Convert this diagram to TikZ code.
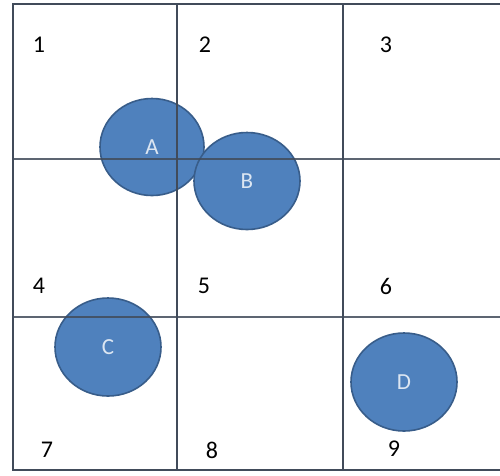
\documentclass[tikz,border=0pt]{standalone}
\usepackage{fontspec}
\setmainfont{Carlito}
\usetikzlibrary{shapes.geometric}
\definecolor{ballfill}{HTML}{4F81BD}
\definecolor{balledge}{HTML}{385D8A}
\definecolor{gridcol}{HTML}{414B5A}
\definecolor{balltext}{HTML}{DCE6F2}
\tikzset{
  ball/.style={ellipse, fill=ballfill, draw=balledge, line width=1.6pt,
    minimum width=#1, inner sep=0pt, text=balltext, font=\fontsize{23}{25}\selectfont},
  grid line/.style={draw=gridcol, line width=2.2pt},
  cellnum/.style={font=\fontsize{24}{26}\selectfont, text=black, inner sep=0pt}
}
\begin{document}
\begin{tikzpicture}[x=1pt,y=-1pt]
\useasboundingbox (0,0) rectangle (500,475);
\fill[white] (0,0) rectangle (500,475);
% balls
\node[ball=104pt, minimum height=97pt] (A) at (152,147) {A};
\node[ball=106pt, minimum height=97pt] (B) at (247,181) {B};
\node[ball=106pt, minimum height=98pt] (C) at (108,347) {C};
\node[ball=106pt, minimum height=98pt] (D) at (404,382) {D};
% grid
\coordinate (tl) at (13,4);
\coordinate (tr) at (500,4);
\coordinate (bl) at (13,470);
\coordinate (br) at (500,470);
\coordinate (v1t) at (177,4);
\coordinate (v1b) at (177,470);
\coordinate (v2t) at (343,4);
\coordinate (v2b) at (343,470);
\coordinate (h1l) at (13,159);
\coordinate (h1r) at (500,159);
\coordinate (h2l) at (13,317);
\coordinate (h2r) at (500,317);
\draw[grid line] (tr) -- (tl) -- (bl) -- (br);
\draw[grid line] (v1t) -- (v1b);
\draw[grid line] (v2t) -- (v2b);
\draw[grid line, draw opacity=0.85] (h1l) -- (h1r);
\draw[grid line, draw opacity=0.85] (h2l) -- (h2r);
% cell numbers
\node[cellnum] (n1) at (39,45) {1};
\node[cellnum] (n2) at (205,45) {2};
\node[cellnum] (n3) at (386,45) {3};
\node[cellnum] (n4) at (39,286) {4};
\node[cellnum] (n5) at (204,286) {5};
\node[cellnum] (n6) at (386,286) {6};
\node[cellnum] (n7) at (47,450) {7};
\node[cellnum] (n8) at (212,450) {8};
\node[cellnum] (n9) at (394,449) {9};
\end{tikzpicture}
\end{document}
